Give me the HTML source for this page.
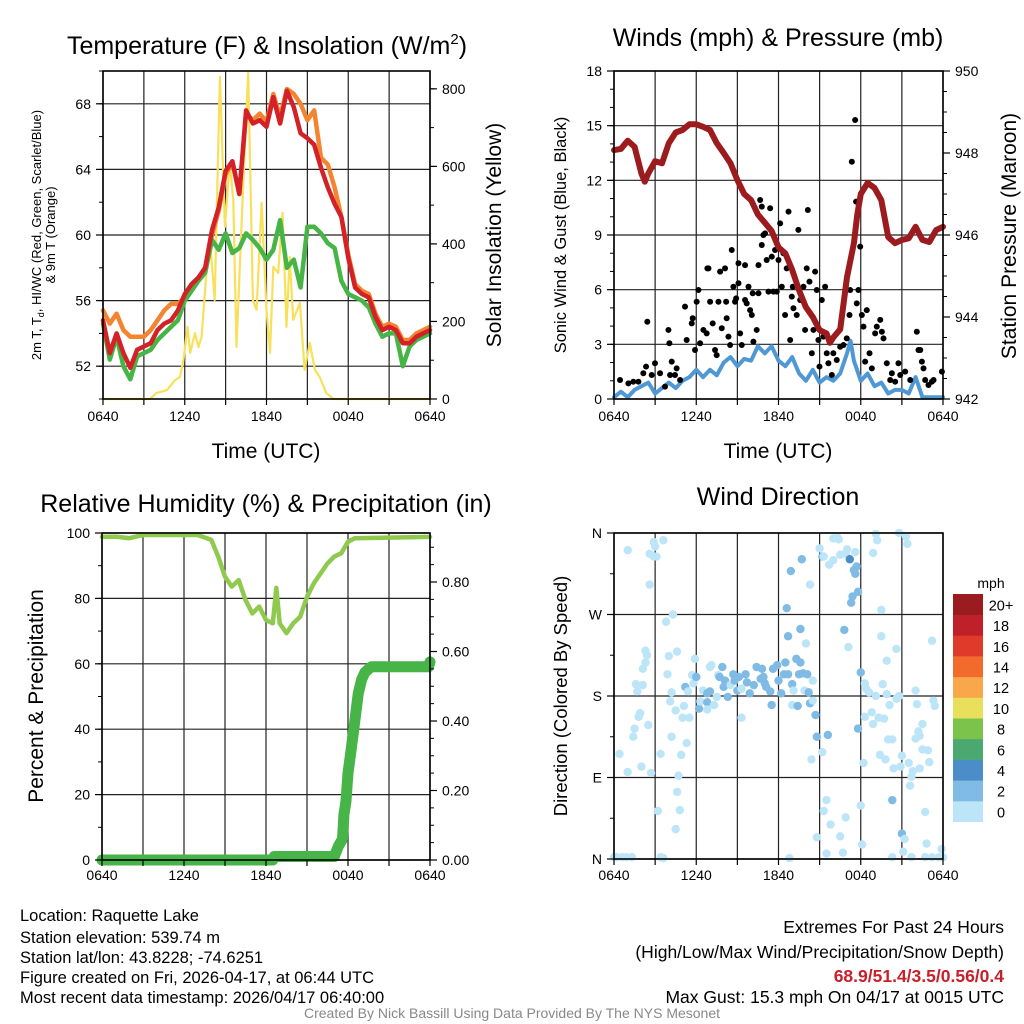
<!DOCTYPE html>
<html><head><meta charset="utf-8"><title>Raquette Lake Meteogram</title>
<style>
html,body{margin:0;padding:0;background:#fff;}
svg{display:block;font-family:"Liberation Sans",Arial,sans-serif;}
</style></head>
<body>
<svg id="chart" width="1024" height="1024" viewBox="0 0 1024 1024" xmlns="http://www.w3.org/2000/svg">
<rect x="0" y="0" width="1024" height="1024" fill="#fff"/>
<g id="layer"></g>
<text x="267" y="54" font-size="25" text-anchor="middle">Temperature (F) &amp; Insolation (W/m<tspan dy="-10" font-size="15">2</tspan><tspan dy="10">)</tspan></text>
<text x="778" y="46" font-size="25" text-anchor="middle">Winds (mph) &amp; Pressure (mb)</text>
<text x="266" y="512" font-size="25" text-anchor="middle">Relative Humidity (%) &amp; Precipitation (in)</text>
<text x="778" y="505" font-size="25" text-anchor="middle">Wind Direction</text>
<text x="266" y="458" font-size="21" text-anchor="middle">Time (UTC)</text>
<text x="778" y="458" font-size="21" text-anchor="middle">Time (UTC)</text>
<text transform="translate(41,235) rotate(-90)" font-size="13" text-anchor="middle">2m T, T<tspan dy="3" font-size="9">d</tspan><tspan dy="-3">, HI/WC (Red, Green, Scarlet/Blue)</tspan></text>
<text transform="translate(55,235) rotate(-90)" font-size="13" text-anchor="middle">&amp; 9m T (Orange)</text>
<text transform="translate(501,235) rotate(-90)" font-size="21" text-anchor="middle">Solar Insolation (Yellow)</text>
<text transform="translate(566,235) rotate(-90)" font-size="16.5" text-anchor="middle">Sonic Wind &amp; Gust (Blue, Black)</text>
<text transform="translate(1016,236) rotate(-90)" font-size="21" text-anchor="middle">Station Pressure (Maroon)</text>
<text transform="translate(43,696) rotate(-90)" font-size="21" text-anchor="middle">Percent &amp; Precipitation</text>
<text transform="translate(567,696) rotate(-90)" font-size="18.5" text-anchor="middle">Direction (Colored By Speed)</text>
<text x="991" y="588" font-size="14" text-anchor="middle">mph</text>
<g font-size="16.5">
<text x="20" y="921">Location: Raquette Lake</text>
<text x="20" y="943">Station elevation: 539.74 m</text>
<text x="20" y="963">Station lat/lon: 43.8228; -74.6251</text>
<text x="20" y="983">Figure created on Fri, 2026-04-17, at 06:44 UTC</text>
<text x="20" y="1003">Most recent data timestamp: 2026/04/17 06:40:00</text>
</g>
<g font-size="17.5" text-anchor="end">
<text x="1004" y="933">Extremes For Past 24 Hours</text>
<text x="1004" y="958">(High/Low/Max Wind/Precipitation/Snow Depth)</text>
<text x="1004" y="982" fill="#c8202a" font-weight="bold">68.9/51.4/3.5/0.56/0.4</text>
<text x="1004" y="1003">Max Gust: 15.3 mph On 04/17 at 0015 UTC</text>
</g>
<text x="512" y="1018" font-size="14" fill="#888" text-anchor="middle">Created By Nick Bassill Using Data Provided By The NYS Mesonet</text>
</svg>
<script>
// ---- data ----
const hourTicks = [0,6,12,18,24];
const hourTickLabels = ["0640","1240","1840","0040","0640"];
const tempT = [0,0.5,1,1.5,2,2.5,3,3.5,4,4.5,5,5.5,6,6.5,7,7.5,8,8.5,9,9.5,10,10.5,11,11.5,12,12.5,13,13.5,14,14.5,15,15.5,16,16.5,17,17.5,18,18.5,19,19.5,20,20.5,21,21.5,22,22.5,23,23.5,24];
const tempRed = [54.8,52.8,54.0,52.8,51.9,53.0,53.2,53.4,54.2,54.6,54.8,55.4,56.4,57.0,57.4,58.0,60.3,61.7,63.9,64.5,62.5,67.6,66.8,67.0,66.6,68.4,66.8,68.8,67.8,66.2,65.9,65.5,64.1,62.9,61.9,61.1,58.6,56.8,56.4,56.2,55.0,54.2,54.4,54.2,53.4,53.4,53.8,54.0,54.2];
const tempOrange = [55.4,54.6,55.2,54.2,53.8,53.8,53.8,54.2,54.8,55.4,55.8,55.8,56.2,57.0,57.4,58.0,60.0,61.5,63.7,64.4,62.5,67.4,67.0,67.4,66.9,68.6,67.2,68.9,68.6,68.0,67.0,67.6,64.7,64.3,62.9,61.1,58.8,57.0,56.6,56.4,55.2,54.4,54.6,54.4,53.6,53.6,54.0,54.2,54.4];
const tempGreen = [54.6,52.4,53.8,52.0,51.2,52.6,52.8,53.0,53.6,54.0,54.4,54.8,56.0,56.6,57.2,57.7,59.7,59.1,60.1,58.9,59.2,60.1,59.7,59.2,58.5,59.1,60.9,58.0,58.5,56.8,60.5,60.5,60.1,59.5,59.2,57.2,56.4,56.2,56.0,55.6,54.6,53.8,54.0,54.0,52.0,53.2,53.6,53.8,54.0];
const solarT = [0,3.45,3.9,4.7,5.3,5.65,5.9,6.2,6.4,6.75,7.0,7.24,7.6,7.85,8.2,8.58,8.95,9.3,9.56,9.8,10.3,10.66,11.0,11.27,11.64,12.0,12.26,12.5,12.86,13.18,13.47,13.7,13.96,14.45,14.8,15.18,15.55,15.9,16.4,16.9,24];
const solarV = [0,0,15,23,49,57,100,186,119,170,134,160,333,410,255,831,444,609,514,134,557,841,255,230,506,230,119,341,325,480,186,366,204,248,75,145,75,57,15,0,0];
const tempTicks = [52,56,60,64,68];
const solarTicks = [0,200,400,600,800];

const presT = [0,0.5,1,1.5,2,2.25,2.5,3,3.5,4,4.5,5,5.5,6,6.5,7,7.5,8,8.5,9,9.5,10,10.5,11,11.5,12,12.5,13,13.5,14,14.5,15,15.5,15.75,16,16.5,17,17.5,17.75,18,18.5,19,19.5,20,20.5,21,21.5,22,22.5,23,23.5,24];
const presV = [948.07,948.1,948.3,948.15,947.5,947.3,947.5,947.8,947.75,948.24,948.5,948.56,948.7,948.7,948.64,948.56,948.24,948.0,947.75,947.34,947.0,946.85,946.5,946.3,946.1,945.7,945.55,945.15,944.65,944.24,944.0,943.68,943.6,943.37,943.5,943.7,944.97,945.8,946.5,947.0,947.27,947.15,946.85,945.95,945.8,945.88,945.92,946.2,945.88,945.83,946.12,946.2];
const windT = [0,0.5,1,1.5,2,2.5,3,3.5,4,4.5,5,5.5,6,6.5,7,7.5,8,8.5,9,9.5,10,10.5,11,11.5,12,12.5,13,13.5,14,14.5,15,15.5,16,16.5,17,17.25,17.5,18,18.5,19,19.5,20,20.5,21,21.5,22,22.5,23,23.5,24];
const windV = [0.1,0.4,0.1,0.5,0.7,0.9,0.3,0.6,0.9,0.6,1.0,1.2,1.6,1.2,1.6,1.3,2.0,2.3,1.8,2.2,2.1,2.9,2.5,2.9,2.1,1.8,2.3,1.4,1.0,1.6,0.9,1.2,1.0,1.4,2.5,3.2,2.1,1.0,1.4,0.7,0.9,0.3,0.5,0.5,0.3,1.2,0.1,0.1,0.1,0.1];
const gustT = [0.44,1.05,1.41,1.78,2.14,2.34,2.43,2.75,2.99,3.36,3.72,3.97,4.04,4.21,4.09,4.45,4.57,4.82,5.18,5.30,5.67,5.74,5.91,6.03,6.16,6.28,6.52,6.76,6.81,6.89,7.01,7.20,7.37,7.49,7.62,7.74,7.86,8.10,8.18,8.22,8.35,8.47,8.59,8.71,8.83,8.91,9.08,9.08,9.20,9.32,9.56,9.56,9.68,9.81,9.93,10.05,10.12,10.17,10.41,10.54,10.54,10.66,10.78,10.78,10.90,11.02,11.14,11.27,11.39,11.51,11.63,11.75,11.87,12.0,12.12,12.24,12.36,12.48,12.6,12.73,12.85,12.97,13.04,13.09,13.33,13.45,13.58,13.7,13.82,13.94,14.06,14.14,14.26,14.43,14.55,14.67,14.79,14.91,14.99,15.16,15.28,15.4,15.52,15.64,15.89,16.0,16.25,16.5,16.74,16.98,17.18,17.23,17.35,17.59,17.66,17.71,17.83,17.96,18.08,18.2,18.32,18.44,18.64,18.81,19.05,19.17,19.42,19.54,19.66,19.9,20.15,20.27,20.51,20.75,20.88,21.24,21.61,22.09,22.21,22.34,22.46,22.58,22.7,22.94,23.19,23.31,23.92];
const gustV = [1.04,0.86,0.95,0.95,1.41,1.78,4.24,1.32,1.96,1.41,0.68,3.79,3.06,2.05,1.32,1.32,1.68,1.04,5.07,3.24,4.15,4.43,2.69,5.34,5.98,3.06,3.79,3.6,7.17,7.17,5.34,4.15,2.69,2.41,5.34,6.99,3.88,7.17,5.34,4.43,3.42,2.96,8.18,6.16,5.34,5.52,7.45,6.35,3.6,2.96,7.35,5.43,5.25,6.16,4.88,4.61,5.8,3.15,3.79,7.35,5.8,10.92,10.56,8.45,9.0,9.09,7.63,5.89,10.47,7.81,5.89,8.18,5.89,7.63,9.64,6.16,8.0,4.61,7.17,10.28,3.24,5.62,6.16,4.98,4.61,9.28,5.43,5.52,6.16,3.79,7.17,10.37,6.44,2.51,3.79,6.99,5.98,3.24,1.78,5.43,3.42,6.16,2.51,1.96,1.32,2.51,2.14,2.87,2.96,3.33,4.61,5.98,13.02,15.31,10.83,5.25,5.98,8.36,4.61,3.97,2.05,4.88,2.51,1.68,3.6,3.97,4.34,3.69,3.33,1.96,1.04,1.41,0.95,1.96,1.32,1.5,1.04,3.69,2.69,2.69,2.05,1.68,1.04,0.77,0.95,1.04,1.5];
const windTicks = [0,3,6,9,12,15,18];
const presTicks = [942,944,946,948,950];

const rhT = [0,1,2,3,7,8,8.5,9,9.5,10,10.5,11,11.5,12,12.5,12.75,13,13.5,14,14.5,15,15.5,16,16.5,17,17.5,18,18.5,24];
const rhV = [98.8,98.9,98.4,99.4,99.4,97.9,92.8,86.6,83.6,85.6,79.5,75.4,77.5,73.4,72.4,83.2,72.4,69.4,72.4,74.4,80.5,84.6,87.7,90.7,92.8,93.8,97.3,98.4,98.8];
const precipT = [0,12.5,12.6,17.0,17.3,17.6,17.7,17.85,18.0,18.27,18.5,18.75,19.0,19.24,19.7,23.9,24];
const precipV = [0,0,0.01,0.01,0.04,0.06,0.13,0.17,0.25,0.33,0.40,0.48,0.52,0.54,0.556,0.556,0.57];
const rhTicks = [0,20,40,60,80,100];
const precipTicks = [0,0.2,0.4,0.6,0.8];
const precipTickLabels = ["0.00","0.20","0.40","0.60","0.80"];

const dirT = [0.2,0.6,0.9,1.3,1.0,2.9,3.0,2.6,2.9,3.1,3.6,2.6,0.4,1.0,2.0,2.7,1.4,1.5,1.8,1.9,1.7,1.6,2.1,2.5,2.1,2.3,2.3,2.4,3.4,3.2,3.4,3.6,3.8,4.3,4.0,4.6,3.9,4.2,4.1,4.5,4.2,5.1,5.0,5.5,5.3,4.9,4.7,4.6,4.8,4.5,5.9,5.7,5.8,5.2,5.4,6.0,6.2,6.3,6.8,6.8,7.0,7.1,6.5,6.8,7.0,7.5,7.3,7.6,7.9,7.7,8.1,8.0,8.3,8.5,8.7,8.8,9.1,9.0,9.3,9.3,9.6,9.7,9.9,10.2,10.4,10.8,10.7,10.9,11.0,11.1,11.4,11.5,11.6,11.9,12.0,12.2,12.5,12.4,12.7,13.0,13.1,13.0,13.3,13.6,13.5,13.8,14.1,13.4,13.9,14.2,14.3,14.5,14.5,14.7,14.8,14.4,14.0,13.6,12.7,12.6,12.9,13.7,14.3,15.0,15.2,15.3,15.7,16.0,16.0,16.3,16.4,16.5,16.9,17.0,17.6,17.2,17.5,17.7,17.6,17.8,17.4,17.3,16.8,17.1,18.0,17.8,15.6,15.2,18.2,18.3,18.4,18.6,19.1,19.6,19.9,20.1,20.6,20.8,22.0,22.1,23.3,23.4,18.3,18.8,18.9,19.3,19.7,20.0,20.3,20.6,19.9,19.5,19.5,18.9,19.2,19.1,20.8,21.3,21.4,23.2,22.5,22.2,22.3,22.0,22.5,22.9,23.0,19.4,19.8,20.4,20.9,21.0,21.5,21.8,21.7,22.3,21.6,15.5,15.3,15.8,16.9,14.8,16.5,15.5,16.7,18.0,18.1,20.3,21.0,21.2,21.1,22.7,22.8,23.9,20.3,21.7,22.7,23.2,23.7,12.8,0.0,24.0];
const dirD = [2,2,2,2,341,350,345,337,334,334,352,303,116,96,102,95,135,144,157,161,185,193,192,148,210,217,230,225,116,53,2,1,262,270,224,229,204,184,174,164,135,169,156,156,128,115,92,74,54,33,221,203,194,190,185,201,166,174,173,165,212,214,186,183,185,179,170,203,212,201,197,190,179,192,204,197,201,186,188,156,204,195,183,192,212,210,199,201,194,190,185,170,210,214,197,183,217,204,204,193,186,170,221,217,204,205,204,169,186,184,172,175,197,159,135,110,238,254,246,277,318,331,303,343,334,334,325,330,354,355,353,336,337,342,339,331,319,323,315,295,290,283,253,234,206,144,137,118,106,194,188,184,180,193,182,170,177,180,186,171,175,169,157,162,149,156,155,132,132,232,219,246,275,338,352,359,360,356,348,241,149,141,136,133,121,120,107,115,110,100,102,114,106,97,91,100,81,65,53,38,46,24,25,6,7,59,16,65,28,22,8,52,17,11,2,2,2,2,2,1,2,2];
const dirS = [1,1,1,1,1,1,1,1,1,1,1,1,1,1,1,1,1,1,1,1,1,1,1,1,1,1,1,1,1,1,1,1,1,1,1,1,1,1,1,1,1,1,1,1,1,1,1,1,1,1,1,1,1,3,1,3,3,1,3,1,1,1,1,3,3,1,1,1,3,3,3,3,3,1,3,3,3,3,1,1,3,3,3,3,3,3,3,3,3,3,3,3,3,3,3,3,3,3,3,3,1,1,3,3,3,3,3,3,1,3,3,1,1,3,3,1,1,3,3,3,3,3,1,1,3,1,1,1,1,1,1,1,1,1,1,5,3,3,3,3,3,3,3,1,3,3,3,1,1,1,1,1,1,1,1,1,1,1,1,1,1,1,1,1,1,1,1,1,1,1,1,1,1,1,1,1,1,1,1,1,1,1,1,1,1,1,1,1,1,1,1,1,1,1,1,1,1,1,1,1,1,1,1,1,1,1,1,3,3,1,1,1,1,1,1,1,1,1,1,1,1,1,1,1];
const dirTicks = [0,90,180,270,360];
const dirTickLabels = ["N","E","S","W","N"];
const speedLevels = [0,2,4,6,8,10,12,14,16,18,20];
const speedLabels = ["0","2","4","6","8","10","12","14","16","18","20+"];
const speedColors = ["#bde5f8","#7fbbe5","#4a8dc9","#4aa870","#7cc34c","#e8e05a","#f8a84a","#f26a2c","#e03a2a","#c0202a","#9b1c1f"];

// ---- drawing helpers ----
const NS = "http://www.w3.org/2000/svg";
const layer = document.getElementById("layer");
function mk(tag, attrs, parent){
  const e = document.createElementNS(NS, tag);
  for (const k in attrs) e.setAttribute(k, attrs[k]);
  (parent||layer).appendChild(e);
  return e;
}
function linScale(d0,d1,r0,r1){ return v => r0 + (v-d0)/(d1-d0)*(r1-r0); }

function makePanel(name,x0,x1,y0,y1){
  const g = mk("g",{});
  
  
  return {g,x0,x1,y0,y1,sx:linScale(0,24,x0,x1)};
}
function grid(p, yTicksPx){
  for (let h=0; h<=24; h+=3){
    const x = p.sx(h);
    const l = mk("line",{x1:x,x2:x,y1:p.y0,y2:p.y1,stroke:"#222","stroke-width":1.2},p.g);
    
    
  }
  yTicksPx.forEach(y=>{
    const l = mk("line",{x1:p.x0,x2:p.x1,y1:y,y2:y,stroke:"#222","stroke-width":1.2},p.g);
    
    
  });
}
function frame(p){
  const r = mk("rect",{x:p.x0,y:p.y0,width:p.x1-p.x0,height:p.y1-p.y0,fill:"none",stroke:"#000","stroke-width":1.6},p.g);
  
  
}
function xAxis(p, ly){
  for (let h=0; h<=24; h+=3){
    const x = p.sx(h);
    const t = mk("line",{x1:x,x2:x,y1:p.y1,y2:p.y1+6,stroke:"#000","stroke-width":1.2},p.g);
    
    
  }
  hourTicks.forEach((h,i)=>{
    const t = mk("text",{x:p.sx(h),y:ly,"font-size":14,"text-anchor":"middle"},p.g);
    t.textContent = hourTickLabels[i];
    
    
  });
}
function yAxis(p, sy, ticks, labels, side, minorStep, lo, hi){
  const xe = side==="left" ? p.x0 : p.x1;
  const dir = side==="left" ? -1 : 1;
  for (let v=lo; v<=hi+1e-9; v+=minorStep){
    const y = sy(v);
    if (y < p.y0-0.5 || y > p.y1+0.5) continue;
    const m = mk("line",{x1:xe,x2:xe+dir*4,y1:y,y2:y,stroke:"#000","stroke-width":1},p.g);
    
    
  }
  ticks.forEach((v,i)=>{
    const y = sy(v);
    const tk = mk("line",{x1:xe,x2:xe+dir*7,y1:y,y2:y,stroke:"#000","stroke-width":1.2},p.g);
    
    
    const t = mk("text",{x:xe+dir*12,y:y+5,"font-size":14,"text-anchor":side==="left"?"end":"start"},p.g);
    t.textContent = labels ? labels[i] : String(v);
    
    
  });
}
function polyline(p, ts, vs, sy, color, w, name){
  const d = ts.map((t,i)=>(i?"L":"M")+p.sx(t).toFixed(1)+","+sy(vs[i]).toFixed(1)).join("");
  const e = mk("path",{d:d,fill:"none",stroke:color,"stroke-width":w,"stroke-linejoin":"round","stroke-linecap":"round"},p.g);
  
  
  return e;
}

// ---- panel 1: temperature ----
const p1 = makePanel("temperature-panel",103,430,71,399);
const t1 = linScale(50,70,399,71);
const s1 = linScale(0,846,399,71);
grid(p1, tempTicks.map(t1));
polyline(p1, solarT, solarV, s1, "#f7e15a", 2.2, "solar-insolation-line");
polyline(p1, tempT, tempOrange, t1, "#f58430", 4.5, "temp-9m-line");
polyline(p1, tempT, tempGreen, t1, "#46b446", 4.5, "dewpoint-line");
polyline(p1, tempT, tempRed, t1, "#d42027", 4.5, "temp-2m-line");
frame(p1);
xAxis(p1, 421);
yAxis(p1, t1, tempTicks, null, "left", 2, 50, 70);
yAxis(p1, s1, solarTicks, null, "right", 100, 0, 846);

// ---- panel 2: wind & pressure ----
const p2 = makePanel("wind-pressure-panel",614,943,71,399);
const w2 = linScale(0,18,399,71);
const pr2 = linScale(942,950,399,71);
grid(p2, windTicks.map(w2));
polyline(p2, windT, windV, w2, "#4f98d4", 4, "sonic-wind-line");
gustT.forEach((t,i)=>{
  const c = mk("circle",{cx:p2.sx(t),cy:w2(gustV[i]),r:3,fill:"#000"},p2.g);
  
  
});
polyline(p2, presT, presV, pr2, "#9b1b1e", 6, "pressure-line");
frame(p2);
xAxis(p2, 421);
yAxis(p2, w2, windTicks, null, "left", 1, 0, 18);
yAxis(p2, pr2, presTicks, null, "right", 0.5, 942, 950);

// ---- panel 3: RH & precip ----
const p3 = makePanel("humidity-precip-panel",102,430,533,860);
const r3 = linScale(0,100,860,533);
const q3 = linScale(0,0.2,860,790.5);
grid(p3, rhTicks.map(r3));
polyline(p3, rhT, rhV, r3, "#8fc94e", 4.5, "relative-humidity-line");
polyline(p3, precipT, precipV, q3, "#46b446", 11, "precipitation-line");
frame(p3);
xAxis(p3, 880);
yAxis(p3, r3, rhTicks, null, "left", 10, 0, 100);
yAxis(p3, q3, precipTicks, precipTickLabels, "right", 0.05, 0, 0.94);

// ---- panel 4: wind direction ----
const p4 = makePanel("wind-direction-panel",614,943,533,859);
const d4 = linScale(0,360,859,533);
grid(p4, dirTicks.map(d4));
function speedColor(s){
  let c = speedColors[0];
  speedLevels.forEach((lv,i)=>{ if (s>=lv) c = speedColors[i]; });
  return c;
}
dirT.forEach((t,i)=>{
  const c = mk("circle",{cx:p4.sx(t),cy:d4(dirD[i]),r:4.2,fill:speedColor(dirS[i])},p4.g);
  
  
});
frame(p4);
xAxis(p4, 880);
yAxis(p4, d4, dirTicks, dirTickLabels, "left", 45, 0, 360);

// ---- colorbar ----
const cb = mk("g",{});


const cbTop = 594, cbH = 20.7;
speedLevels.forEach((lv,i)=>{
  const k = speedLevels.length-1-i;
  const y = cbTop + k*cbH;
  const r = mk("rect",{x:953,y:y,width:30,height:cbH+0.3,fill:speedColors[i]},cb);
  
  
  const t = mk("text",{x:1001,y:y+cbH/2+6,"font-size":14.5,"text-anchor":"middle"},cb);
  t.textContent = speedLabels[i];
  
  
});
</script>
</body></html>
